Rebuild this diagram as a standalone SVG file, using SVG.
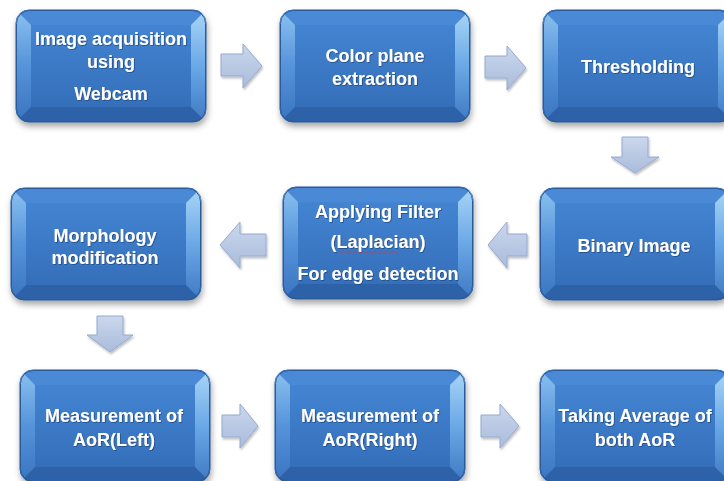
<svg xmlns="http://www.w3.org/2000/svg" xmlns:xlink="http://www.w3.org/1999/xlink" width="724" height="481" viewBox="0 0 724 481">
<defs>
<style>
.t{font-family:"Liberation Sans",Arial,sans-serif;font-weight:bold;font-size:18px;fill:#ffffff;text-anchor:middle;filter:url(#ts)}
.arr{fill:url(#ag);stroke:#95aacf;stroke-width:1}
</style>
<filter id="ds" x="-10%" y="-10%" width="125%" height="130%"><feDropShadow dx="1" dy="4" stdDeviation="3" flood-color="#000" flood-opacity="0.35"/></filter>
<filter id="ts" x="-5%" y="-20%" width="110%" height="150%"><feDropShadow dx="0.8" dy="0.8" stdDeviation="0.4" flood-color="#1b3f70" flood-opacity="0.8"/></filter>
<filter id="as" x="-20%" y="-20%" width="150%" height="150%"><feDropShadow dx="1" dy="2" stdDeviation="1.2" flood-color="#000" flood-opacity="0.25"/></filter>
<linearGradient id="og" x1="0" y1="0" x2="0" y2="1"><stop offset="0" stop-color="#4d8cd8"/><stop offset="1" stop-color="#2c60a6"/></linearGradient>
<linearGradient id="fg" x1="0" y1="0" x2="0" y2="1"><stop offset="0" stop-color="#4384d2"/><stop offset="1" stop-color="#356fba"/></linearGradient>
<linearGradient id="lg" x1="0" y1="0" x2="0" y2="1"><stop offset="0" stop-color="#8cc2f0"/><stop offset="0.5" stop-color="#5593da"/><stop offset="1" stop-color="#3a74c0"/></linearGradient>
<linearGradient id="rg" x1="0" y1="0" x2="0" y2="1"><stop offset="0" stop-color="#a9d6f7"/><stop offset="0.5" stop-color="#6aa8e6"/><stop offset="1" stop-color="#3f79c4"/></linearGradient>
<linearGradient id="ag" x1="0" y1="0" x2="0" y2="1"><stop offset="0" stop-color="#cbd7ec"/><stop offset="1" stop-color="#a9bcdc"/></linearGradient>
<clipPath id="bc"><rect x="0" y="0" width="190" height="112" rx="13"/></clipPath>
<symbol id="box" viewBox="0 0 190 112" width="190" height="112" overflow="visible">
<g filter="url(#ds)"><rect x="0" y="0" width="190" height="112" rx="13" fill="url(#og)" stroke="#2a5a98" stroke-width="1"/></g>
<g clip-path="url(#bc)">
<polygon points="0,0 190,0 175,15 15,15" fill="#4a89d6"/>
<polygon points="15,97 175,97 190,112 0,112" fill="#2d62a8"/>
<polygon points="0,0 15,15 15,97 0,112" fill="url(#lg)"/>
<polygon points="190,0 175,15 175,97 190,112" fill="url(#rg)"/>
<rect x="15" y="15" width="160" height="82" fill="url(#fg)"/>
</g>
<rect x="0.5" y="0.5" width="189" height="111" rx="13" fill="none" stroke="#2a5a98" stroke-width="1"/>
</symbol>
</defs>
<rect width="724" height="481" fill="#ffffff"/>

<g id="connectors">
<g filter="url(#as)">
<path class="arr" d="M221,54 H243 V44 L262,66 L243,88 V76 H221 Z"/>
<path class="arr" d="M485,56 H507 V46 L526,68 L507,90 V78 H485 Z"/>
<path class="arr" d="M622,137 H648 V157 H659 L635,173 L611,157 H622 Z"/>
<path class="arr" d="M527,234 H507 V222 L488,245 L507,268 V256 H527 Z"/>
<path class="arr" d="M266,234 H240 V222 L220,245 L240,268 V256 H266 Z"/>
<path class="arr" d="M97,316 H123 V335 H133 L110,352 L87,335 H97 Z"/>
<path class="arr" d="M222,415 H240 V404 L258,426 L240,448 V437 H222 Z"/>
<path class="arr" d="M481,415 H500 V404 L519,426 L500,448 V437 H481 Z"/>
</g>
</g>

<g id="n1"><use xlink:href="#box" x="16" y="10"/>
<text class="t" x="111" y="45">Image acquisition</text>
<text class="t" x="111" y="68">using</text>
<text class="t" x="111" y="100">Webcam</text></g>

<g id="n2"><use xlink:href="#box" x="280" y="10"/>
<text class="t" x="375" y="62">Color plane</text>
<text class="t" x="375" y="85">extraction</text></g>

<g id="n3"><use xlink:href="#box" x="543" y="10"/>
<text class="t" x="638" y="73">Thresholding</text></g>

<g id="n4"><use xlink:href="#box" x="540" y="188"/>
<text class="t" x="634" y="252">Binary Image</text></g>

<g id="n5"><use xlink:href="#box" x="283" y="187"/>
<text class="t" x="378" y="218">Applying Filter</text>
<text class="t" x="378" y="248">(Laplacian)</text>
<text class="t" x="378" y="280">For edge detection</text>
<path d="M338,252 q1.5,-1.5 3,0 t3,0 t3,0 t3,0 t3,0 t3,0 t3,0 t3,0 t3,0 t3,0 t3,0 t3,0 t3,0 t3,0 t3,0 t3,0 t3,0 t3,0 t3,0 t3,0" fill="none" stroke="#d23a3a" stroke-width="0.8"/></g>

<g id="n6"><use xlink:href="#box" x="11" y="188"/>
<text class="t" x="105" y="242">Morphology</text>
<text class="t" x="105" y="264">modification</text></g>

<g id="n7"><use xlink:href="#box" x="20" y="370"/>
<text class="t" x="114" y="422">Measurement of</text>
<text class="t" x="114" y="446">AoR(Left)</text></g>

<g id="n8"><use xlink:href="#box" x="275" y="370"/>
<text class="t" x="370" y="422">Measurement of</text>
<text class="t" x="370" y="446">AoR(Right)</text></g>

<g id="n9"><use xlink:href="#box" x="540" y="370"/>
<text class="t" x="635" y="422">Taking Average of</text>
<text class="t" x="635" y="446">both AoR</text></g>
</svg>
